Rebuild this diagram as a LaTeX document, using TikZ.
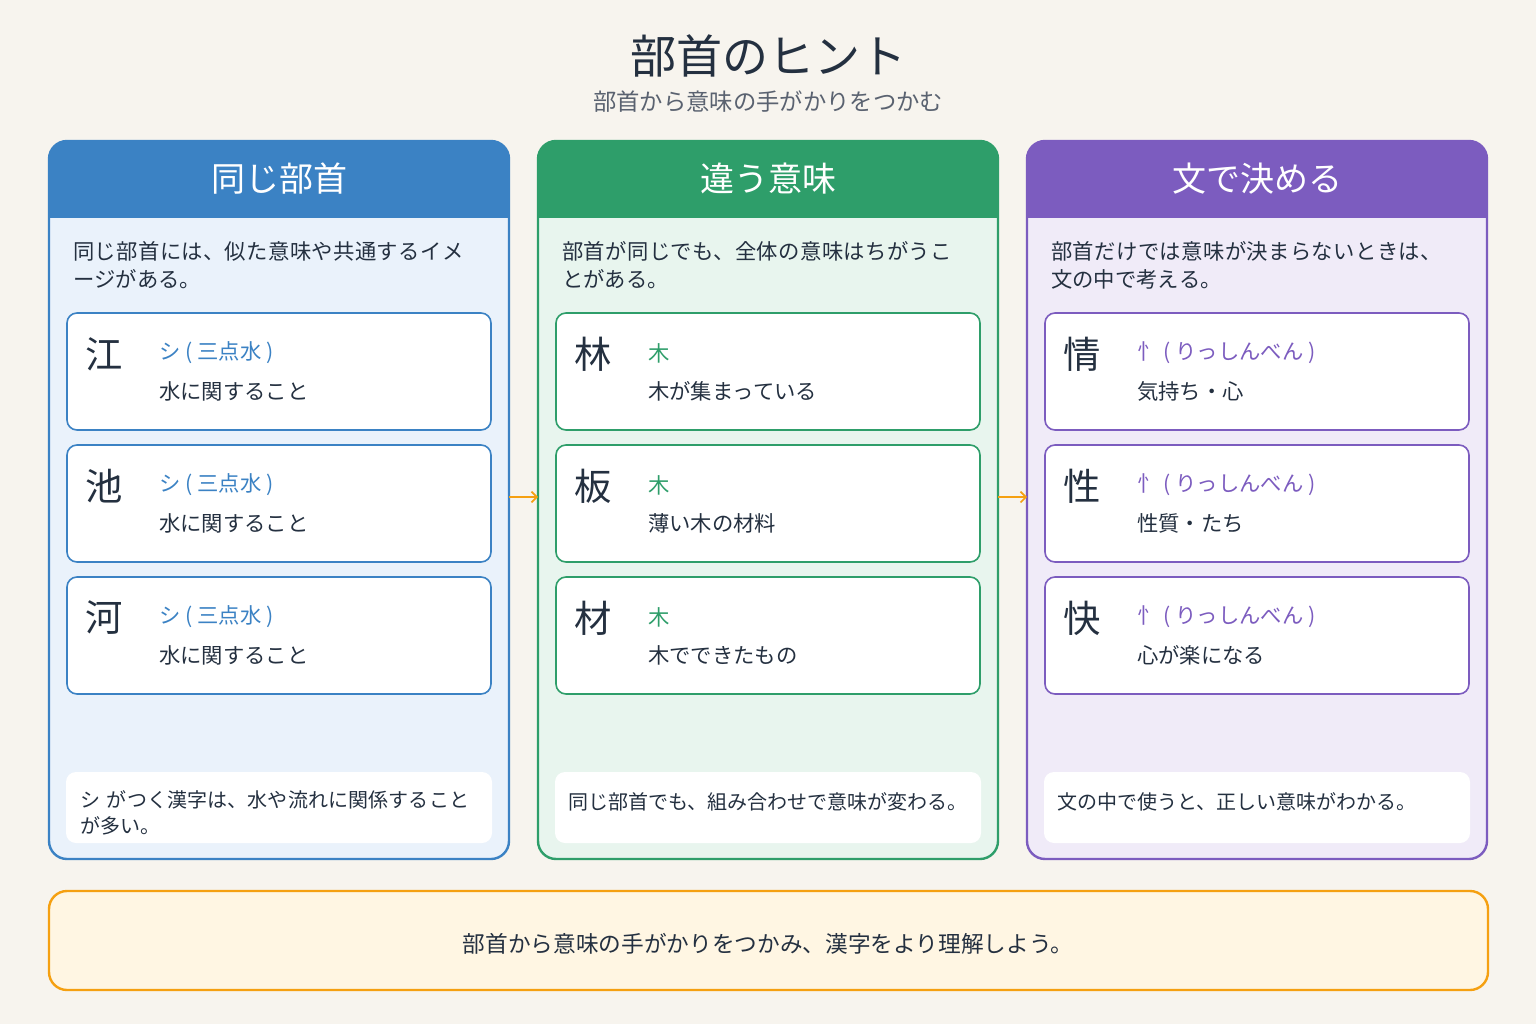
\documentclass[tikz,border=0pt]{standalone}
\usepackage{fontspec}
\setmainfont{Noto Sans CJK JP}
\XeTeXlinebreaklocale "ja"
\XeTeXlinebreakskip=0pt plus 1pt
\usetikzlibrary{arrows.meta}
\definecolor{bg}{HTML}{F7F4EE}
\definecolor{ink}{HTML}{243040}
\definecolor{sub}{HTML}{5A6270}
\definecolor{cblue}{HTML}{3B82C4}
\definecolor{lblue}{HTML}{EAF2FB}
\definecolor{cgreen}{HTML}{2E9E6A}
\definecolor{lgreen}{HTML}{E8F5EE}
\definecolor{cpurple}{HTML}{7C5CBF}
\definecolor{lpurple}{HTML}{F0EBF8}
\definecolor{corange}{HTML}{F5A011}
\definecolor{lorange}{HTML}{FFF6E3}
\tikzset{
    txt/.style={anchor=west,inner sep=0pt,text=ink,font=\fontsize{16}{21}\selectfont},
    big/.style={inner sep=0pt,text=ink,font=\fontsize{28}{30}\selectfont},
    head/.style={inner sep=0pt,text=white,font=\fontsize{25.5}{28}\selectfont},
    flow/.style={-{Straight Barb[length=4pt]},corange,line width=1.2pt}
}
% column: #1 left x, #2 frame colour, #3 fill colour, #4 title, #5 name
\newcommand{\column}[5]{
    \begin{scope}
        \clip[rounded corners=13.5pt] (#1,141) rectangle (#1+460,859);
        \fill[#3] (#1,141) rectangle (#1+460,859);
        \fill[#2] (#1,141) rectangle (#1+460,218);
    \end{scope}
    \draw[#2,line width=1.8pt,rounded corners=13.5pt] (#1,141) rectangle (#1+460,859);
    \node[head] (#5h) at (#1+230,179) {#4};
    \coordinate (#5w) at (#1,497);
    \coordinate (#5e) at (#1+460,497);
}
% card: #1 left x, #2 top y, #3 colour, #4 kanji, #5 radical, #6 meaning, #7 name
\newcommand{\card}[7]{
    \draw[#3,fill=white,line width=1.2pt,rounded corners=7.5pt] (#1,#2) rectangle (#1+424,#2+117);
    \node[big] (#7k) at (#1+37,#2+41) {#4};
    \node[txt,text=#3] (#7r) at (#1+92,#2+40) {#5};
    \node[txt] (#7m) at (#1+92,#2+78) {#6};
}
\begin{document}
\begin{tikzpicture}[x=0.75pt,y=-0.75pt]
    \fill[bg] (0,0) rectangle (1536,1024);
    \useasboundingbox (0,0) rectangle (1536,1024);

    % Title
    \node[inner sep=0pt,text=ink,font=\fontsize{34.5}{38}\selectfont] (title) at (768,56) {部首のヒント};
    \node[inner sep=0pt,text=sub,font=\fontsize{17.5}{20}\selectfont] (subtitle) at (768,102) {部首から意味の手がかりをつかむ};

    % Columns
    \column{49}{cblue}{lblue}{同じ部首}{a}
    \column{538}{cgreen}{lgreen}{違う意味}{b}
    \column{1027}{cpurple}{lpurple}{文で決める}{c}

    % Descriptions
    \node[txt,anchor=north west,text width=302pt] (ad) at (73,241) {同じ部首には、似た意味や共通するイメージがある。};
    \node[txt,anchor=north west,text width=302pt] (bd) at (562,241) {部首が同じでも、全体の意味はちがうことがある。};
    \node[txt,anchor=north west,text width=302pt] (cd) at (1051,241) {部首だけでは意味が決まらないときは、文の中で考える。};

    % Cards
    \card{67}{313}{cblue}{江}{シ ( 三点水 )}{水に関すること}{a1}
    \card{67}{445}{cblue}{池}{シ ( 三点水 )}{水に関すること}{a2}
    \card{67}{577}{cblue}{河}{シ ( 三点水 )}{水に関すること}{a3}
    \card{556}{313}{cgreen}{林}{木}{木が集まっている}{b1}
    \card{556}{445}{cgreen}{板}{木}{薄い木の材料}{b2}
    \card{556}{577}{cgreen}{材}{木}{木でできたもの}{b3}
    \card{1045}{313}{cpurple}{情}{忄 ( りっしんべん )}{気持ち・心}{c1}
    \card{1045}{445}{cpurple}{性}{忄 ( りっしんべん )}{性質・たち}{c2}
    \card{1045}{577}{cpurple}{快}{忄 ( りっしんべん )}{心が楽になる}{c3}

    % Notes
    \fill[white,rounded corners=7.5pt] (66,772) rectangle (492,843);
    \fill[white,rounded corners=7.5pt] (555,772) rectangle (981,843);
    \fill[white,rounded corners=7.5pt] (1044,772) rectangle (1470,843);
    \node[txt,anchor=north west,text width=295pt,font=\fontsize{15}{19.5}\selectfont] (an) at (80,790) {シ がつく漢字は、水や流れに関係することが多い。};
    \node[txt,font=\fontsize{15}{19.5}\selectfont] (bn) at (568,802) {同じ部首でも、組み合わせで意味が変わる。};
    \node[txt,font=\fontsize{15}{19.5}\selectfont] (cn) at (1057,802) {文の中で使うと、正しい意味がわかる。};

    % Flow arrows
    \draw[flow] (ae) -- (bw);
    \draw[flow] (be) -- (cw);

    % Summary
    \draw[corange,fill=lorange,line width=1.8pt,rounded corners=13.5pt] (49,891) rectangle (1488,990);
    \node[txt,anchor=center,font=\fontsize{17}{20}\selectfont] (sum) at (768,944) {部首から意味の手がかりをつかみ、漢字をより理解しよう。};
\end{tikzpicture}
\end{document}
